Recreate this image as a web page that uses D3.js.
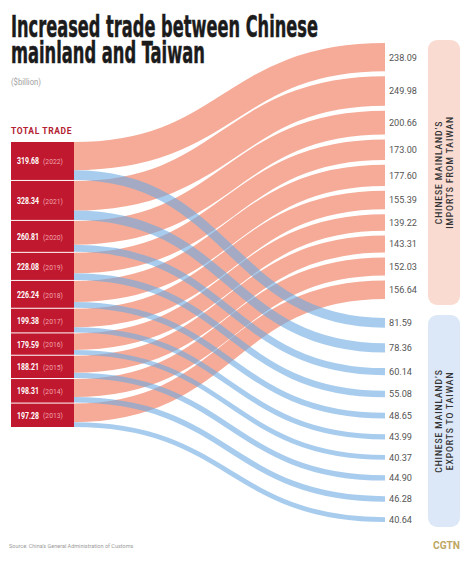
<!DOCTYPE html>
<html><head><meta charset="utf-8">
<script src="https://cdn.jsdelivr.net/npm/d3@7"></script>
<style>
html,body{margin:0;padding:0;background:#fff;}
svg{display:block;}
</style></head>
<body>
<svg id="chart" width="474" height="561"></svg>
<script>
// ---- data ----
const years = [2022, 2021, 2020, 2019, 2018, 2017, 2016, 2015, 2014, 2013];
const totals = [319.68, 328.34, 260.81, 228.08, 226.24, 199.38, 179.59, 188.21, 198.31, 197.28];
const imports = [238.09, 249.98, 200.66, 173.00, 177.60, 155.39, 139.22, 143.31, 152.03, 156.64];
const exports = [81.59, 78.36, 60.14, 55.08, 48.65, 43.99, 40.37, 44.90, 46.28, 40.64];
const importLabels = ["238.09","249.98","200.66","173.00","177.60","155.39","139.22","143.31","152.03","156.64"];
const exportLabels = ["81.59","78.36","60.14","55.08","48.65","43.99","40.37","44.90","46.28","40.64"];

const svg = d3.select("#chart");
const COND = "'DejaVu Sans Condensed','DejaVu Sans',sans-serif";

// squeeze a text horizontally to a target width (anchored at x,y)
function fit(sel, x, y, target) {
  sel.attr("x", 0).attr("y", 0);
  const nat = sel.node().getComputedTextLength();
  const s = Math.min(1, target / nat);
  sel.attr("transform", `translate(${x},${y}) scale(${s},1)`);
  return sel;
}

// ---- layout ----
const leftX0 = 11, leftX1 = 74, rightX = 385;
const leftTop = 142, leftBottom = 427, leftGap = 1;
const n = years.length;
const w = d3.scaleLinear().domain([0, d3.sum(totals)]).range([0, (leftBottom - leftTop) - leftGap * (n - 1)]);

const leftNodes = [];
let y = leftTop;
totals.forEach((t, i) => { leftNodes.push({ y0: y, y1: y + w(t), i }); y += w(t) + leftGap; });

function stack(vals, top, bottom) {
  const gap = (bottom - top - w(d3.sum(vals))) / (vals.length - 1);
  const out = []; let yy = top;
  vals.forEach(v => { out.push({ y0: yy, y1: yy + w(v) }); yy += w(v) + gap; });
  return out;
}
const impNodes = stack(imports, 43, 299);
const expNodes = stack(exports, 318, 522);

const link = d3.linkHorizontal().x(d => d[0]).y(d => d[1]);

// pink links (imports)
svg.append("g").selectAll("path").data(imports).join("path")
  .attr("d", (v, i) => {
    const ly = leftNodes[i].y0 + w(v) / 2;
    const ry = (impNodes[i].y0 + impNodes[i].y1) / 2;
    return link({ source: [leftX1, ly], target: [rightX, ry] });
  })
  .attr("fill", "none").attr("stroke", "#f5ab97")
  .attr("stroke-width", v => w(v));

// blue links (exports)
svg.append("g").selectAll("path").data(exports).join("path")
  .attr("d", (v, i) => {
    const ly = leftNodes[i].y1 - w(v) / 2;
    const ry = (expNodes[i].y0 + expNodes[i].y1) / 2;
    return link({ source: [leftX1, ly], target: [rightX, ry] });
  })
  .attr("fill", "none").attr("stroke", "#6eaae1").attr("stroke-opacity", 0.6)
  .attr("stroke-width", v => w(v));

// left blocks
const lg = svg.append("g");
lg.selectAll("rect").data(leftNodes).join("rect")
  .attr("x", leftX0).attr("y", d => d.y0)
  .attr("width", leftX1 - leftX0).attr("height", d => d.y1 - d.y0)
  .attr("fill", "#c0182f");
leftNodes.forEach(d => {
  const cy = (d.y0 + d.y1) / 2;
  fit(lg.append("text").attr("font-family", "Roboto, sans-serif").attr("font-weight", 700)
    .attr("font-size", 9.5).attr("fill", "#fff").text(totals[d.i].toFixed(2)), 17, cy + 3.5, 22);
  fit(lg.append("text").attr("font-family", "Roboto, sans-serif").attr("font-weight", 400)
    .attr("font-size", 8).attr("fill", "#f1a3ab").text("(" + years[d.i] + ")"), 43, cy + 3.2, 20);
});

// right labels
const rg = svg.append("g").attr("font-family", "Roboto, sans-serif").attr("font-size", 9.5).attr("fill", "#555");
impNodes.forEach((d, i) => {
  fit(rg.append("text").text(importLabels[i]), 389, (d.y0 + d.y1) / 2 + 3.4, 28);
});
expNodes.forEach((d, i) => {
  fit(rg.append("text").text(exportLabels[i]), 389, (d.y0 + d.y1) / 2 + 3.4, 23);
});

// group boxes
const groups = [
  { y0: 40, y1: 305, fill: "#f9dbd2", l1: "CHINESE MAINLAND\u2019S", l2: "IMPORTS FROM TAIWAN" },
  { y0: 315, y1: 527, fill: "#dce8f7", l1: "CHINESE MAINLAND\u2019S", l2: "EXPORTS TO TAIWAN" }
];
groups.forEach(g => {
  svg.append("rect").attr("x", 428).attr("y", g.y0).attr("width", 32).attr("height", g.y1 - g.y0)
    .attr("rx", 9).attr("fill", g.fill);
  const cy = (g.y0 + g.y1) / 2;
  [[g.l1, 442], [g.l2, 453]].forEach(([t, x]) => {
    svg.append("text").attr("transform", `translate(${x},${cy}) rotate(-90)`)
      .attr("text-anchor", "middle").attr("font-family", "Roboto, sans-serif")
      .attr("font-weight", 500).attr("font-size", 8.5).attr("letter-spacing", 0.9)
      .attr("fill", "#333").text(t);
  });
});

// titles
fit(svg.append("text").attr("font-family", COND).attr("font-weight", 700)
  .attr("font-size", 30).attr("fill", "#1b1b1b").attr("stroke", "#1b1b1b").attr("stroke-width", 0.5)
  .text("Increased trade between Chinese"), 11, 37, 307);
fit(svg.append("text").attr("font-family", COND).attr("font-weight", 700)
  .attr("font-size", 30).attr("fill", "#1b1b1b").attr("stroke", "#1b1b1b").attr("stroke-width", 0.5)
  .text("mainland and Taiwan"), 11, 63, 194);
fit(svg.append("text").attr("font-family", "Roboto, sans-serif")
  .attr("font-size", 8.5).attr("fill", "#a0a0a0").text("($billion)"), 11, 85, 30);
fit(svg.append("text").attr("font-family", "Roboto, sans-serif")
  .attr("font-weight", 700).attr("font-size", 8.5).attr("fill", "#b3202f")
  .attr("letter-spacing", 0.6).text("TOTAL TRADE"), 11, 134, 63);

// footer
fit(svg.append("text").attr("font-family", "Roboto, sans-serif")
  .attr("font-size", 5.5).attr("fill", "#9a9a9a")
  .text("Source: China\u2019s General Administration of Customs"), 9, 548, 126);
fit(svg.append("text").attr("font-family", "Roboto, sans-serif")
  .attr("font-weight", 700).attr("font-size", 11).attr("fill", "#bda661").text("CGTN"), 433, 549, 27);
</script>
</body></html>
